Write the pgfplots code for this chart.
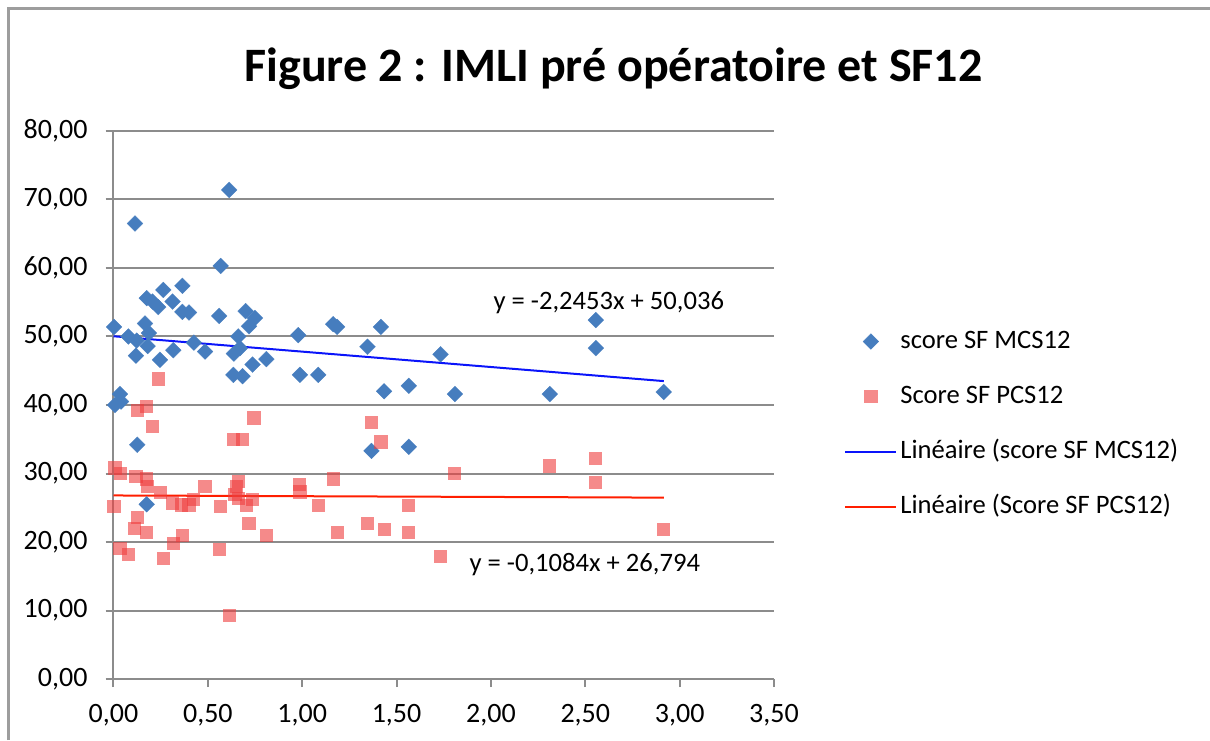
\documentclass[border=0pt]{standalone}
\usepackage{pgfplots}
\pgfplotsset{compat=1.18}
\usepackage{fontspec}
\setmainfont{Carlito}
\definecolor{mcs}{RGB}{70,125,190}
\definecolor{pcs}{RGB}{238,60,60}
\definecolor{gridc}{RGB}{140,140,140}
\definecolor{lblue}{RGB}{10,20,250}
\definecolor{lred}{RGB}{255,30,0}
\begin{document}
\begin{tikzpicture}
\useasboundingbox (0,0) rectangle (605pt,370pt);
\draw[gridc!85!white, line width=1.3pt] (4.2pt,0) -- (4.2pt,365.8pt) -- (605pt,365.8pt);
\node[anchor=base, font=\fontsize{24}{28}\selectfont\bfseries, inner sep=0pt] at (306.75pt,329pt) {Figure 2 : IMLI pré opératoire et SF12};
\begin{axis}[
  at={(56.75pt,30.5pt)}, anchor=south west,
  scale only axis, width=330.25pt, height=274pt,
  xmin=0, xmax=3.5, ymin=0, ymax=80,
  xtick={0,0.5,1,1.5,2,2.5,3,3.5}, ytick={0,10,...,80},
  axis x line*=bottom, axis y line*=left,
  x axis line style={gridc, line width=1.4pt},
  y axis line style={gridc, line width=1pt},
  tick align=outside, major tick length=4pt,
  tick style={gridc, line width=1pt},
  ymajorgrids, grid style={gridc, line width=1pt},
  tick label style={font=\fontsize{14}{17}\selectfont,
    /pgf/number format/fixed, /pgf/number format/fixed zerofill,
    /pgf/number format/precision=2, /pgf/number format/use comma,
    /pgf/number format/assume math mode=true},
  yticklabel style={xshift=-5.5pt},
  xticklabel style={yshift=-5pt},
  clip=false,
  legend image code/.code={\draw[mark repeat=2,mark phase=2,#1] plot coordinates {(0pt,0pt) (12.75pt,0pt) (25.5pt,0pt)};},
  legend style={at={(1.106,0.4653)}, anchor=west, draw=none, fill=none,
    inner sep=0pt, row sep=11pt,
    font=\fontsize{13.3}{16}\selectfont,
    nodes={inner sep=1.5pt, text height=10pt, text depth=3.5pt}},
  legend cell align=left,
]
\addplot[only marks, mark=square*, mark size=2.8pt,
  mark options={rotate=45, fill=mcs, draw=mcs, line width=0.1pt}] coordinates {
(0.613,71.4) (0.114,66.5) (0.568,60.3) (0.365,57.4) (0.264,56.8)
(0.176,55.6) (0.207,55.1) (0.313,55.1) (0.237,54.3) (0.365,53.6)
(0.400,53.5) (0.560,53.0) (0.700,53.7) (0.750,52.7) (0.718,51.5)
(0.003,51.4) (0.167,51.9) (1.164,51.8) (1.185,51.4) (1.417,51.4)
(0.079,50.0) (0.188,50.5) (0.123,49.4) (0.181,48.6) (0.979,50.2)
(0.661,50.0) (0.426,49.1) (0.670,48.3) (0.485,47.8) (0.317,48.0)
(0.119,47.2) (0.638,47.5) (0.246,46.6) (0.810,46.7) (0.737,45.9)
(1.346,48.5) (1.733,47.4) (0.635,44.4) (0.684,44.2) (0.988,44.4)
(1.085,44.4) (1.434,42.0) (1.565,42.8) (0.034,41.6) (0.008,40.0)
(0.040,40.5) (0.126,34.2) (1.367,33.3) (1.565,33.9) (0.176,25.5)
(1.809,41.6) (2.312,41.6) (2.556,52.4) (2.556,48.3) (2.916,41.9)
};
\addlegendentry{score SF MCS12}
\addplot[only marks, mark=square*, mark size=3.3pt,
  mark options={fill=pcs, draw=pcs, fill opacity=0.6, draw opacity=0}] coordinates {
(0.237,43.8) (0.126,39.2) (0.176,39.8) (0.207,36.9) (0.744,38.1)
(0.635,35.0) (0.684,35.0) (1.367,37.5) (1.417,34.6) (0.008,30.8)
(0.038,30.0) (0.119,29.6) (0.176,29.2) (0.181,28.1) (0.250,27.2)
(0.485,28.1) (0.652,28.1) (0.661,28.8) (0.984,28.4) (0.988,27.3)
(1.164,29.2) (0.644,26.9) (0.661,26.4) (0.737,26.2) (0.705,25.3)
(0.003,25.2) (0.313,25.7) (0.361,25.4) (0.400,25.4) (0.426,26.2)
(0.568,25.2) (1.085,25.3) (1.565,25.3) (0.126,23.6) (0.110,22.0)
(0.176,21.4) (0.718,22.7) (0.810,20.9) (1.185,21.4) (1.346,22.7)
(1.434,21.8) (1.565,21.4) (0.365,21.0) (0.317,19.8) (0.034,19.1)
(0.079,18.2) (0.264,17.6) (0.560,18.9) (1.733,17.9) (0.613,9.3)
(1.809,30.0) (2.312,31.1) (2.556,32.2) (2.556,28.7) (2.916,21.8)
};
\addlegendentry{Score SF PCS12}
\addplot[lblue, line width=1pt, no marks] coordinates {(0,50.036) (2.916,43.489)};
\addlegendentry{Linéaire (score SF MCS12)}
\addplot[lred, line width=1pt, no marks] coordinates {(0,26.794) (2.916,26.478)};
\addlegendentry{Linéaire (Score SF PCS12)}
\node[anchor=base west, inner sep=0pt, font=\fontsize{13.3}{16}\selectfont] at (axis cs:2.012,54.0) {y = -2,2453x + 50,036};
\node[anchor=base west, inner sep=0pt, font=\fontsize{13.3}{16}\selectfont] at (axis cs:1.885,15.7) {y = -0,1084x + 26,794};
\end{axis}
\end{tikzpicture}
\end{document}
